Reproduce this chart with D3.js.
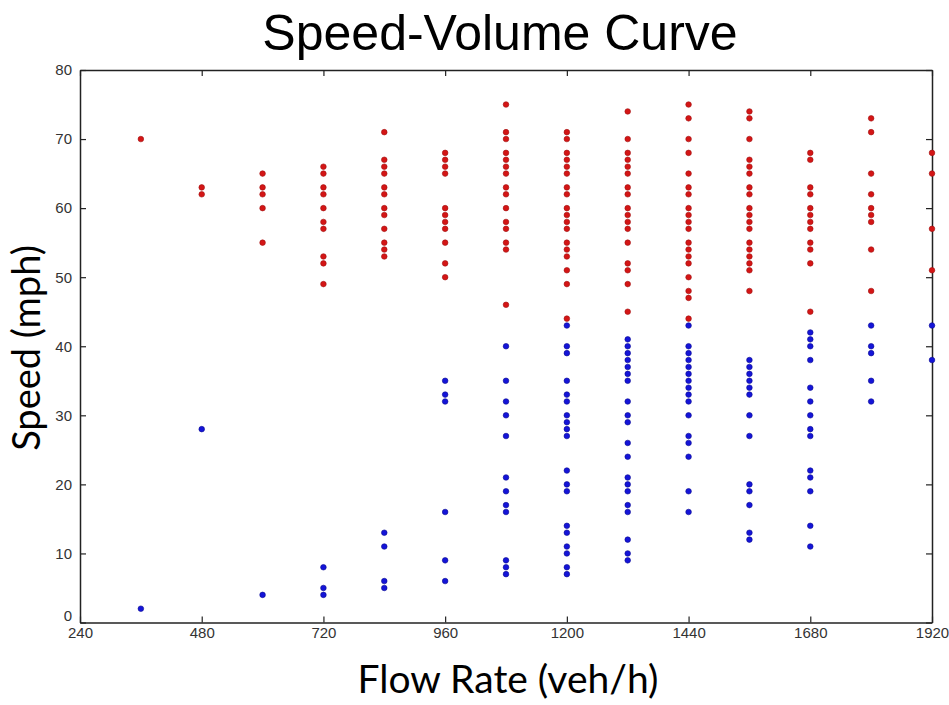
<!DOCTYPE html>
<html><head><meta charset="utf-8">
<script src="https://cdn.jsdelivr.net/npm/d3@7"></script>
<style>body{margin:0;background:#fff;}</style>
</head><body>
<svg id="c" width="949" height="705"></svg>
<script>
const xTicks = [240, 480, 720, 960, 1200, 1440, 1680, 1920];
const yTicks = [0, 10, 20, 30, 40, 50, 60, 70, 80];
const flowRates = [360, 480, 600, 720, 840, 960, 1080, 1200, 1320, 1440, 1560, 1680, 1800, 1920];
const redSpeeds = [
  [70],
  [63, 62],
  [65, 63, 62, 60, 55],
  [66, 65, 63, 62, 60, 58, 57, 53, 52, 49],
  [71, 67, 66, 65, 63, 62, 60, 59, 57, 55, 54, 53],
  [68, 67, 66, 65, 60, 59, 58, 57, 55, 52, 50],
  [75, 71, 70, 68, 67, 66, 65, 63, 62, 60, 58, 57, 55, 54, 46],
  [71, 70, 68, 67, 66, 65, 63, 62, 60, 59, 58, 57, 55, 54, 53, 51, 49, 44],
  [74, 70, 68, 67, 66, 65, 63, 62, 60, 59, 58, 57, 55, 52, 51, 49, 45],
  [75, 73, 70, 68, 65, 63, 62, 60, 59, 58, 57, 55, 54, 53, 52, 50, 48, 47, 44],
  [74, 73, 70, 67, 66, 65, 63, 62, 60, 59, 58, 57, 55, 54, 53, 52, 51, 48],
  [68, 67, 63, 62, 60, 59, 58, 57, 55, 54, 52, 45],
  [73, 71, 65, 62, 60, 59, 58, 54, 48],
  [68, 65, 57, 51]
];
const blueSpeeds = [
  [2],
  [28],
  [4],
  [8, 5, 4],
  [13, 11, 6, 5],
  [35, 33, 32, 16, 9, 6],
  [40, 35, 32, 30, 27, 21, 19, 17, 16, 9, 8, 7],
  [43, 40, 39, 35, 33, 32, 30, 29, 28, 27, 22, 20, 19, 14, 13, 11, 10, 8, 7],
  [41, 40, 39, 38, 37, 36, 35, 32, 30, 29, 26, 24, 21, 20, 19, 17, 16, 12, 10, 9],
  [43, 40, 39, 38, 37, 36, 35, 34, 33, 32, 30, 27, 26, 24, 19, 16],
  [38, 37, 36, 35, 34, 33, 30, 27, 20, 19, 17, 13, 12],
  [42, 41, 40, 38, 34, 32, 30, 28, 27, 22, 21, 19, 14, 11],
  [43, 40, 39, 35, 32],
  [43, 38]
];

const svg = d3.select("#c");
const L = 80, R = 932, T = 70, B = 622.5;
const x = d3.scaleLinear().domain([240, 1920]).range([L, R]);
const y = d3.scaleLinear().domain([0, 80]).range([B, T]);

const tickFont = "'Liberation Sans',Arial,sans-serif";

// axes
const gB = svg.append("g").attr("transform", `translate(0,${B})`)
  .call(d3.axisBottom(x).tickValues(xTicks).tickSizeInner(-6).tickSizeOuter(0).tickPadding(5).tickFormat(d3.format("d")));
const gT = svg.append("g").attr("transform", `translate(0,${T})`)
  .call(d3.axisTop(x).tickValues(xTicks).tickSizeInner(-6).tickSizeOuter(0).tickFormat(""));
const gL = svg.append("g").attr("transform", `translate(${L},0)`)
  .call(d3.axisLeft(y).tickValues(yTicks).tickSizeInner(-6).tickSizeOuter(0).tickPadding(8));
const gR = svg.append("g").attr("transform", `translate(${R},0)`)
  .call(d3.axisRight(y).tickValues(yTicks).tickSizeInner(-6).tickSizeOuter(0).tickFormat(""));
[gB, gT, gL, gR].forEach(g => {
  g.select(".domain").attr("stroke", "#222").attr("stroke-width", 1.5);
  g.selectAll(".tick line").attr("stroke", "#222").attr("stroke-width", 1.2);
  g.selectAll(".tick text").attr("fill", "#333").style("font-family", tickFont).style("font-size", "15px");
});
gB.selectAll(".tick text").attr("dy", "0.71em");
gL.selectAll(".tick text").filter(d => d === 0).attr("dy", "-0.15em");

// points
const redPts = [], bluePts = [];
flowRates.forEach((f, i) => {
  redSpeeds[i].forEach(s => redPts.push([f, s]));
  blueSpeeds[i].forEach(s => bluePts.push([f, s]));
});
svg.append("g").selectAll("circle").data(redPts).join("circle")
  .attr("cx", d => x(d[0])).attr("cy", d => y(d[1])).attr("r", 2.8)
  .attr("fill", "#d41515").attr("stroke", "#a01010").attr("stroke-width", 0.6);
svg.append("g").selectAll("circle").data(bluePts).join("circle")
  .attr("cx", d => x(d[0])).attr("cy", d => y(d[1])).attr("r", 2.8)
  .attr("fill", "#1414d8").attr("stroke", "#0a0a90").attr("stroke-width", 0.6);

// titles
svg.append("text").attr("x", 500).attr("y", 50).attr("text-anchor", "middle")
  .style("font-family", "'Liberation Sans',Arial,sans-serif").style("font-size", "50px")
  .attr("fill", "#000").text("Speed-Volume Curve");
svg.append("text").attr("x", 508).attr("y", 693).attr("text-anchor", "middle")
  .style("font-family", "Lato,'Open Sans',sans-serif").style("font-size", "39px")
  .attr("fill", "#000").text("Flow Rate (veh/h)");
svg.append("text").attr("transform", "translate(40,348) rotate(-90)").attr("text-anchor", "middle")
  .style("font-family", "Lato,'Open Sans',sans-serif").style("font-size", "38px")
  .attr("fill", "#000").text("Speed (mph)");
</script>
</body></html>
